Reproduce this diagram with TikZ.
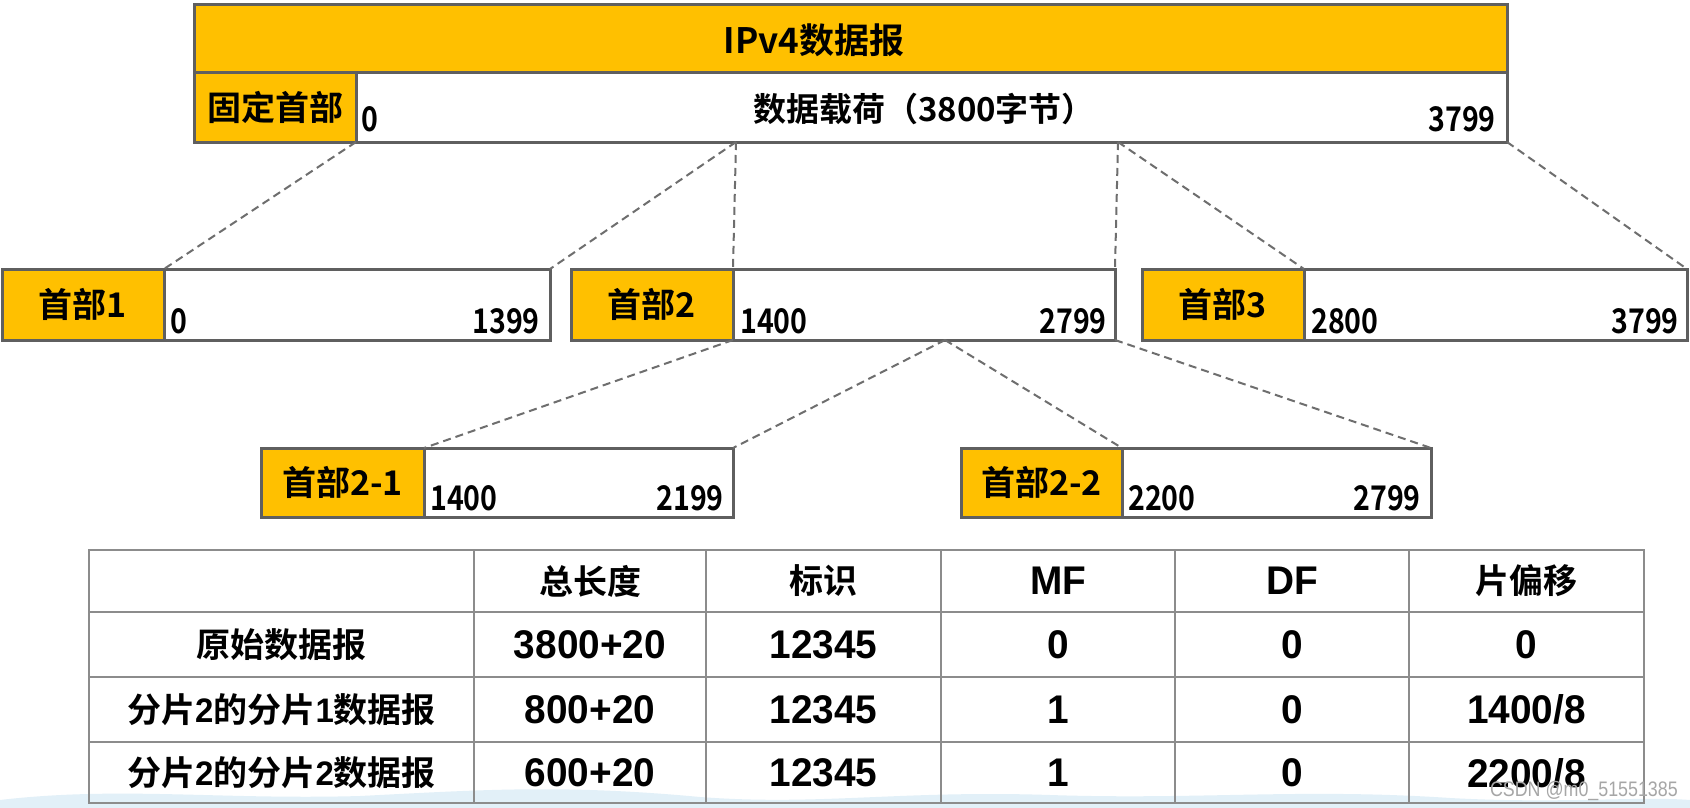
\documentclass[tikz,border=0pt]{standalone}
\usepackage{fontspec}
\setmainfont{Carlito}
\newfontfamily\cjkfont{Noto Sans CJK SC}[BoldFont=* Bold]
\newfontfamily\numfont{Noto Sans CJK SC}[UprightFont=* Bold, FakeStretch=0.84]
\newfontfamily\arialfont{Liberation Sans}[FakeStretch=0.97]
\newfontfamily\markfont{Liberation Sans}[FakeStretch=0.85]
\definecolor{gold}{HTML}{FFC000}
\definecolor{framegray}{HTML}{5F5F5F}
\definecolor{dashgray}{HTML}{6E6E6E}
\definecolor{gridgray}{HTML}{8C8C8C}
\definecolor{haze}{HTML}{E2F0F8}
\tikzset{
  seg/.style={rectangle, draw=framegray, line width=3pt, inner sep=0pt, outer sep=0pt, anchor=north west},
  hdrbox/.style={seg, fill=gold},
  datbox/.style={seg, fill=white},
  lbl/.style={font=\cjkfont\bfseries\fontsize{34}{34}\selectfont, inner sep=0pt},
  num/.style={font=\numfont\fontsize{34}{34}\selectfont, inner sep=0pt},
  split/.style={draw=dashgray, line width=2pt, dash pattern=on 8pt off 5pt},
  gridline/.style={draw=gridgray, line width=2pt},
  cell/.style={font=\arialfont\bfseries\fontsize{40}{40}\selectfont, inner sep=0pt},
  zhcell/.style={font=\cjkfont\bfseries\fontsize{34}{34}\selectfont, inner sep=0pt},
}
\begin{document}
\begin{tikzpicture}[x=1pt,y=-1pt]
\useasboundingbox (0,0) rectangle (1690,808);
\fill[white] (0,0) rectangle (1690,808);
% faint background haze at the bottom
\fill[haze] (0,808) -- (0,800) .. controls (120,786) and (220,800) .. (360,796)
  .. controls (480,790) and (560,784) .. (700,797) .. controls (820,806) and (900,790) .. (1050,795)
  .. controls (1200,800) and (1300,788) .. (1450,798) .. controls (1560,804) and (1640,796) .. (1690,800)
  -- (1690,808) -- cycle;

% ---------- original datagram ----------
\node[hdrbox, minimum width=1313pt, minimum height=68pt] (ipv4) at (194,5) {};
\node[hdrbox, minimum width=162pt, minimum height=69pt] (fixed) at (194,73) {};
\node[datbox, minimum width=1151pt, minimum height=69pt] (payload) at (356,73) {};
\node[lbl, font=\cjkfont\bfseries\fontsize{35}{35}\selectfont] (ipv4t) at (814,40) {IPv4数据报};
\node[lbl] (fixedt) at (fixed.center) {固定首部};
\node[lbl, font=\cjkfont\bfseries\fontsize{33}{33}\selectfont] (payt) at (924,109) {数据载荷（3800字节）};
\node[num, anchor=base west] (p0) at (361,131) {0};
\node[num, anchor=base east] (p3799) at (1496,131) {3799};
\coordinate (c1) at (736,142);
\coordinate (c2) at (1118,142);

% ---------- first fragmentation ----------
\node[hdrbox, minimum width=162pt, minimum height=71pt] (h1) at (2,269) {};
\node[datbox, minimum width=386pt, minimum height=71pt] (d1) at (164,269) {};
\node[hdrbox, minimum width=162pt, minimum height=71pt] (h2) at (571,269) {};
\node[datbox, minimum width=382pt, minimum height=71pt] (d2) at (733,269) {};
\node[hdrbox, minimum width=162pt, minimum height=71pt] (h3) at (1142,269) {};
\node[datbox, minimum width=383pt, minimum height=71pt] (d3) at (1304,269) {};
\node[lbl] (h1t) at (h1.center) {首部1};
\node[lbl] (h2t) at (h2.center) {首部2};
\node[lbl] (h3t) at (h3.center) {首部3};
\node[num, anchor=base west] (d1a) at (170,333) {0};
\node[num, anchor=base east] (d1b) at (540,333) {1399};
\node[num, anchor=base west] (d2a) at (740,333) {1400};
\node[num, anchor=base east] (d2b) at (1107,333) {2799};
\node[num, anchor=base west] (d3a) at (1311,333) {2800};
\node[num, anchor=base east] (d3b) at (1679,333) {3799};
\coordinate (c3) at (945,340);

% ---------- second fragmentation ----------
\node[hdrbox, minimum width=163pt, minimum height=69pt] (h21) at (261,448) {};
\node[datbox, minimum width=309pt, minimum height=69pt] (d21) at (424,448) {};
\node[hdrbox, minimum width=161pt, minimum height=69pt] (h22) at (961,448) {};
\node[datbox, minimum width=309pt, minimum height=69pt] (d22) at (1122,448) {};
\node[lbl] (h21t) at (h21.center) {首部2-1};
\node[lbl] (h22t) at (h22.center) {首部2-2};
\node[num, anchor=base west] (d21a) at (430,510) {1400};
\node[num, anchor=base east] (d21b) at (724,510) {2199};
\node[num, anchor=base west] (d22a) at (1128,510) {2200};
\node[num, anchor=base east] (d22b) at (1421,510) {2799};

% ---------- dashed split lines ----------
\draw[split] (payload.south west) -- (d1.north west);
\draw[split] (c1) -- (d1.north east);
\draw[split] (c1) -- (d2.north west);
\draw[split] (c2) -- (d2.north east);
\draw[split] (c2) -- (d3.north west);
\draw[split] (payload.south east) -- (d3.north east);
\draw[split] (d2.south west) -- (d21.north west);
\draw[split] (c3) -- (d21.north east);
\draw[split] (c3) -- (d22.north west);
\draw[split] (d2.south east) -- (d22.north east);

% ---------- table ----------
\draw[gridline] (89,550) rectangle (1644,803);
\foreach \x in {474,706,941,1175,1409} \draw[gridline] (\x,550) -- (\x,803);
\foreach \y in {612,677,742} \draw[gridline] (89,\y) -- (1644,\y);

\node[zhcell] (th2) at (590,581) {总长度};
\node[zhcell] (th3) at (823.5,581) {标识};
\node[cell] (th4) at (1058,581) {MF};
\node[cell] (th5) at (1292,581) {DF};
\node[zhcell] (th6) at (1526.5,581) {片偏移};

\node[zhcell] (r1c1) at (281.5,645) {原始数据报};
\node[cell] (r1c2) at (590,645) {3800+20};
\node[cell] (r1c3) at (823.5,645) {12345};
\node[cell] (r1c4) at (1058,645) {0};
\node[cell] (r1c5) at (1292,645) {0};
\node[cell] (r1c6) at (1526.5,645) {0};

\node[zhcell] (r2c1) at (281.5,709.5) {分片{\arialfont 2}的分片{\arialfont 1}数据报};
\node[cell] (r2c2) at (590,709.5) {800+20};
\node[cell] (r2c3) at (823.5,709.5) {12345};
\node[cell] (r2c4) at (1058,709.5) {1};
\node[cell] (r2c5) at (1292,709.5) {0};
\node[cell] (r2c6) at (1526.5,709.5) {1400/8};

\node[zhcell] (r3c1) at (281.5,773) {分片{\arialfont 2}的分片{\arialfont 2}数据报};
\node[cell] (r3c2) at (590,773) {600+20};
\node[cell] (r3c3) at (823.5,773) {12345};
\node[cell] (r3c4) at (1058,773) {1};
\node[cell] (r3c5) at (1292,773) {0};
\node[cell] (r3c6) at (1526.5,773) {2200/8};

\node[font=\markfont\fontsize{21}{21}\selectfont, text=gray!70, anchor=east, inner sep=0pt] (wm) at (1678,791) {CSDN @m0\_51551385};
\end{tikzpicture}
\end{document}
